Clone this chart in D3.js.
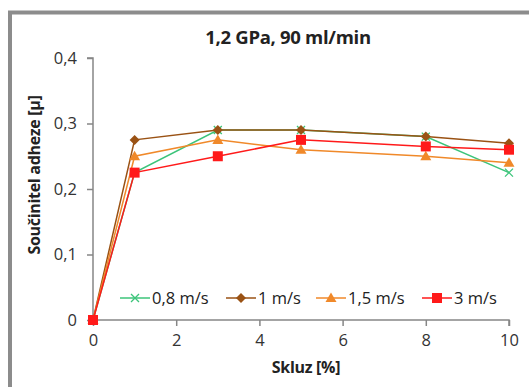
<!DOCTYPE html>
<html>
<head>
<meta charset="utf-8">
<script src="https://cdn.jsdelivr.net/npm/d3@7"></script>
<style>
  html, body { margin: 0; padding: 0; background: #fff; }
  svg { display: block; font-family: "Open Sans", Lato, sans-serif; }
</style>
</head>
<body>
<svg id="chart" width="529" height="387"></svg>
<script>
// Slip values [%]
const slip = [0, 1, 3, 5, 8, 10];
// Adhesion coefficient for each rolling speed
const s08 = [0, 0.225, 0.29, 0.29, 0.28, 0.225];
const s1  = [0, 0.275, 0.29, 0.29, 0.28, 0.27];
const s15 = [0, 0.25, 0.275, 0.26, 0.25, 0.24];
const s3  = [0, 0.225, 0.25, 0.275, 0.265, 0.26];
const seriesNames = ["0,8 m/s", "1 m/s", "1,5 m/s", "3 m/s"];
const xTicks = [0, 2, 4, 6, 8, 10];
const yTicks = [0, 0.1, 0.2, 0.3, 0.4];

const series = [
  { name: seriesNames[0], values: s08, color: "#3cc47a", symbol: "cross" },
  { name: seriesNames[1], values: s1,  color: "#9a5214", symbol: "diamond" },
  { name: seriesNames[2], values: s15, color: "#f0892a", symbol: "triangle" },
  { name: seriesNames[3], values: s3,  color: "#ff1a1a", symbol: "square" }
];

const svg = d3.select("#chart");
const fmt = d => d === 0 ? "0" : d3.format(".1f")(d).replace(".", ",");
const FONT = "'Open Sans', Lato, sans-serif";

// Outer frame
svg.append("rect").attr("x", 10).attr("y", 12.5).attr("width", 540).attr("height", 400)
  .attr("fill", "#fff").attr("stroke", "#8c8c8c").attr("stroke-width", 4);

const x = d3.scaleLinear().domain([0, 10]).range([93, 509]);
const y = d3.scaleLinear().domain([0, 0.4]).range([320, 58]);

// Title
svg.append("text").attr("x", 288).attr("y", 44).attr("text-anchor", "middle")
  .attr("font-weight", "bold").attr("font-size", 18.5).attr("fill", "#222")
  .attr("letter-spacing", -0.3)
  .text("1,2 GPa, 90 ml/min");

// Axes
const axisColor = "#868686";
const yAxis = svg.append("g").attr("transform", "translate(93,0)")
  .call(d3.axisLeft(y).tickValues(yTicks).tickFormat(fmt).tickSize(6).tickPadding(10));
const xAxis = svg.append("g").attr("transform", "translate(0,320)")
  .call(d3.axisBottom(x).tickValues(xTicks).tickFormat(d => d).tickSize(6).tickPadding(8));
[xAxis, yAxis].forEach(g => {
  g.select(".domain").attr("stroke", axisColor).attr("stroke-width", 1.5);
  g.selectAll(".tick line").attr("stroke", axisColor).attr("stroke-width", 1.5);
  g.selectAll(".tick text").attr("font-size", 16.5).attr("fill", "#333")
    .attr("font-family", FONT);
});
xAxis.select(".domain").attr("d", "M93,0H509V6");
yAxis.select(".domain").attr("d", "M-6,58H0V320");

// Axis titles
svg.append("text").attr("x", 306).attr("y", 373).attr("text-anchor", "middle")
  .attr("font-weight", "bold").attr("font-size", 16).attr("fill", "#222")
  .attr("letter-spacing", -0.3)
  .text("Skluz [%]");
svg.append("text").attr("transform", "translate(40,175) rotate(-90)")
  .attr("text-anchor", "middle").attr("font-weight", "bold").attr("font-size", 16)
  .attr("letter-spacing", -0.3)
  .attr("fill", "#222").text("Součinitel adheze [µ]");

// Marker drawing helper
function marker(g, type, color, cx, cy) {
  if (type === "cross") {
    g.append("path").attr("d", `M${cx-4},${cy-4}L${cx+4},${cy+4}M${cx-4},${cy+4}L${cx+4},${cy-4}`)
      .attr("stroke", color).attr("stroke-width", 1.3).attr("fill", "none");
  } else if (type === "diamond") {
    g.append("path").attr("d", `M${cx},${cy-5}L${cx+5},${cy}L${cx},${cy+5}L${cx-5},${cy}Z`)
      .attr("fill", color);
  } else if (type === "triangle") {
    g.append("path").attr("d", `M${cx},${cy-5.5}L${cx+5.5},${cy+4}L${cx-5.5},${cy+4}Z`)
      .attr("fill", color);
  } else {
    g.append("rect").attr("x", cx-5).attr("y", cy-5).attr("width", 10).attr("height", 10)
      .attr("fill", color);
  }
}

// Series lines and markers
const line = d3.line().x((d, i) => x(slip[i])).y(d => y(d));
series.forEach(s => {
  const g = svg.append("g");
  g.append("path").attr("d", line(s.values)).attr("fill", "none")
    .attr("stroke", s.color).attr("stroke-width", 1.5);
  s.values.forEach((v, i) => marker(g, s.symbol, s.color, x(slip[i]), y(v)));
});

// Legend
const legendX = [120, 226, 316, 422];
const legend = svg.append("g");
series.forEach((s, i) => {
  const lx = legendX[i], ly = 298;
  legend.append("line").attr("x1", lx).attr("x2", lx + 30).attr("y1", ly).attr("y2", ly)
    .attr("stroke", s.color).attr("stroke-width", 1.5);
  marker(legend, s.symbol, s.color, lx + 15, ly);
  legend.append("text").attr("x", lx + 32).attr("y", ly + 6).attr("font-size", 16.5)
    .attr("fill", "#222").text(s.name);
});
</script>
</body>
</html>
